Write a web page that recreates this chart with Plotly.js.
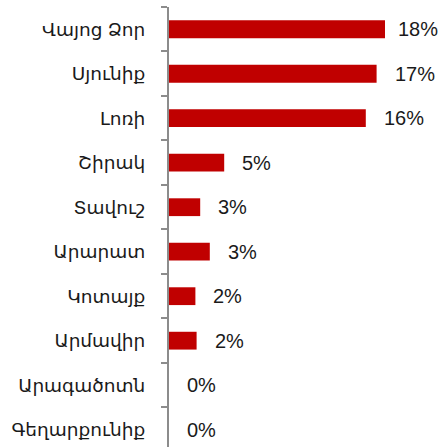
<!DOCTYPE html>
<html>
<head>
<meta charset="utf-8">
<script src="https://cdn.plot.ly/plotly-3.0.1.min.js"></script>
<style>html,body{margin:0;padding:0;background:#fff;}#chart{width:439px;height:447px;}</style>
</head>
<body>
<div id="chart"></div>
<script>
var regions = ["Վայոց Ձոր", "Սյունիք", "Լոռի", "Շիրակ", "Տավուշ", "Արարատ", "Կոտայք", "Արմավիր", "Արագածոտն", "Գեղարքունիք"];
var shares = [18.0, 17.3, 16.4, 4.6, 2.6, 3.4, 2.2, 2.3, 0, 0];
var labels = ["18%", "17%", "16%", "5%", "3%", "3%", "2%", "2%", "0%", "0%"];

var xMax = 22.5;
var plotW = 270;
var gap = 16, labelW = 41, rightLimit = 437;
var annotations = shares.map(function (v, i) {
  var endPx = v / xMax * plotW;
  var shift = Math.min(gap, rightLimit - 169 - endPx - labelW);
  return {
    x: v, y: regions[i], xref: 'x', yref: 'y',
    text: labels[i], showarrow: false, xanchor: 'left', xshift: shift,
    font: {family: 'Arial, "Liberation Sans", sans-serif', size: 20, color: '#1a1a1a'}
  };
});

var trace = {
  type: 'bar', orientation: 'h',
  x: shares, y: regions,
  marker: {color: '#C00000'},
  hoverinfo: 'none'
};

var layout = {
  width: 439, height: 447,
  margin: {l: 169, r: 0, t: 7, b: 0},
  paper_bgcolor: '#fff', plot_bgcolor: '#fff',
  showlegend: false,
  bargap: 0.6,
  xaxis: {range: [0, xMax], visible: false, fixedrange: true},
  yaxis: {
    type: 'category',
    range: [9.39, -0.5],
    tickson: 'boundaries',
    ticks: 'outside', ticklen: 6, tickwidth: 2, tickcolor: '#8c8c8c',
    showline: true, linecolor: '#8c8c8c', linewidth: 2,
    showgrid: false, zeroline: false,
    ticklabelstandoff: 18,
    tickfont: {family: 'Arial, "Liberation Sans", "DejaVu Sans", sans-serif', size: 18.5, color: '#1a1a1a'},
    fixedrange: true
  },
  annotations: annotations
};

Plotly.newPlot('chart', [trace], layout, {displayModeBar: false, staticPlot: true});
</script>
</body>
</html>
